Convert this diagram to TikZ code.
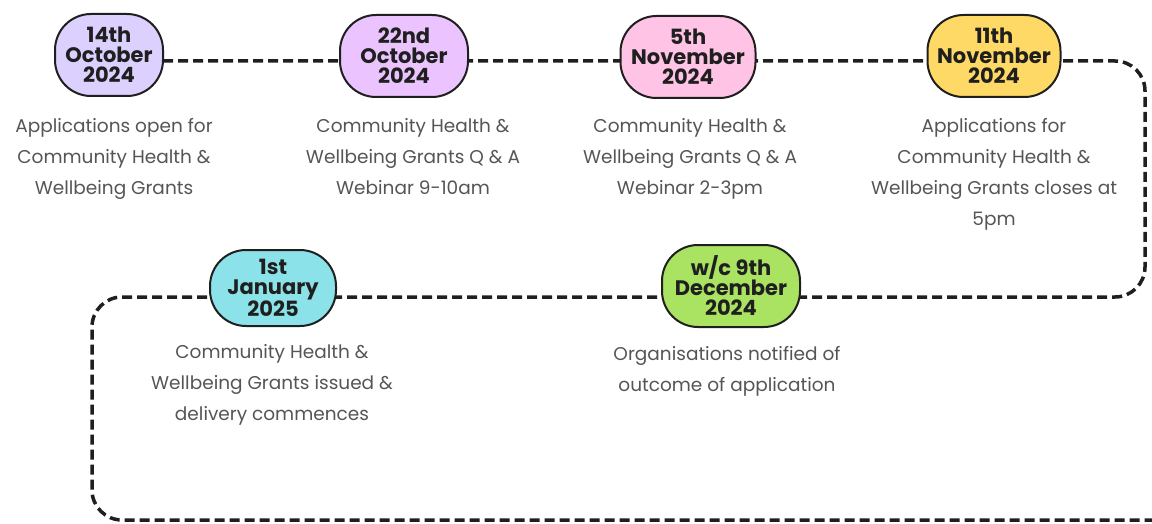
\documentclass[tikz,border=0pt]{standalone}
\usepackage{fontspec}
\setmainfont{Poppins}
\usetikzlibrary{positioning}

\definecolor{lavender}{HTML}{DCD0FF}
\definecolor{lilac}{HTML}{EBC4FF}
\definecolor{pinkish}{HTML}{FFC3E6}
\definecolor{mustard}{HTML}{FFD966}
\definecolor{aqua}{HTML}{8BE2E8}
\definecolor{lime}{HTML}{AAE262}
\definecolor{ink}{HTML}{1F1F1F}
\definecolor{greytext}{HTML}{555555}

\begin{document}
\begin{tikzpicture}[x=1pt,y=-1pt,
    date/.style={draw=ink,line width=2pt,rounded corners=36pt,align=center,
        font=\fontsize{21}{20}\selectfont\bfseries,text=ink,
        minimum height=82pt,inner sep=1pt},
    info/.style={align=center,text=greytext,font=\fontsize{18.5}{31}\selectfont},
    route/.style={draw=ink,line width=3.5pt,dash pattern=on 10pt off 5pt,rounded corners=30pt}]

\useasboundingbox (0,0) rectangle (1152,524);

\coordinate (start) at (163,61);
\coordinate (ne) at (1145,61);
\coordinate (se) at (1145,297);
\coordinate (nw) at (92,297);
\coordinate (sw) at (92,520);
\coordinate (stop) at (1160,520);

\path [route] (start) -- (ne) -- (se) -- (nw) -- (sw) -- (stop);

\node [date,fill=lavender,minimum width=108pt] (d1) at (109,55) {14th\\October\\2024};
\node [date,fill=lilac,minimum width=128pt] (d2) at (404,56) {22nd\\October\\2024};
\node [date,fill=pinkish,minimum width=135pt] (d3) at (688,57) {5th\\November\\2024};
\node [date,fill=mustard,minimum width=133pt] (d4) at (994,56) {11th\\November\\2024};
\node [date,fill=aqua,minimum width=126pt,minimum height=76pt] (d5) at (273,288) {1st\\January\\2025};
\node [date,fill=lime,minimum width=138pt] (d6) at (731,286) {w/c 9th\\December\\2024};

\node [info,anchor=north] (t1) at (114,115) {Applications open for\\Community Health \&\\Wellbeing Grants};
\node [info,anchor=north] (t2) at (413,115) {Community Health \&\\Wellbeing Grants Q \& A\\Webinar 9-10am};
\node [info,anchor=north] (t3) at (690,115) {Community Health \&\\Wellbeing Grants Q \& A\\Webinar 2-3pm};
\node [info,anchor=north] (t4) at (994,115) {Applications for\\Community Health \&\\Wellbeing Grants closes at\\5pm};
\node [info,anchor=north] (t5) at (272,341) {Community Health \&\\Wellbeing Grants issued \&\\delivery commences};
\node [info,anchor=north] (t6) at (727,343) {Organisations notified of\\outcome of application};

\end{tikzpicture}
\end{document}
